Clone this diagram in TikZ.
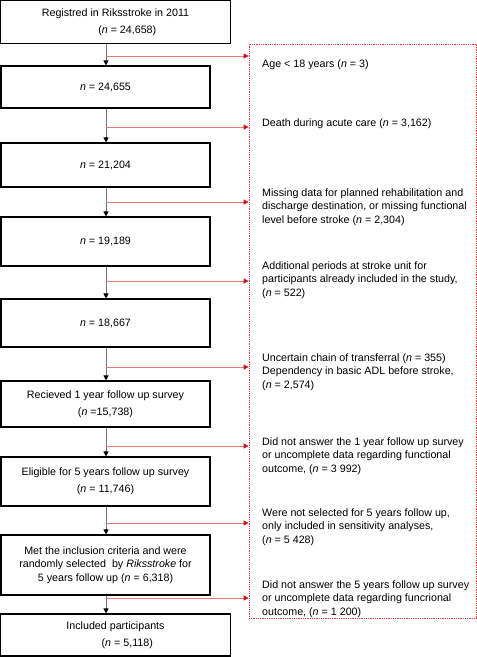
\documentclass[tikz,border=0pt]{standalone}
\usepackage{fontspec}
\setmainfont{Liberation Sans}
\usepackage{tikz}
\usetikzlibrary{positioning}
\usetikzlibrary{arrows.meta,shapes}
\usetikzlibrary{calc}
\definecolor{exclred}{RGB}{230,60,60}
\definecolor{tipred}{RGB}{200,20,20}
\tikzstyle{stepbox}=[rectangle,draw=black,line width=1.1pt,inner sep=0pt,align=center,font=\fontsize{10.7}{13.6}\selectfont]
\tikzstyle{exclbox}=[rectangle,draw=exclred,line width=0.8pt,densely dotted,inner sep=0pt]
\tikzstyle{excltext}=[anchor=west,inner sep=0pt,align=left,font=\fontsize{10.7}{13.6}\selectfont]
\tikzstyle{flowedge} = [draw,black!55,line width=0.8pt,-{Triangle[length=5pt,width=5pt,color=black]}]
\tikzstyle{excledge} = [draw,exclred!70,line width=0.8pt,-{Triangle[length=5pt,width=5pt,color=tipred]}]
\newcommand{\nn}{\textit{n}}

\begin{document}
\begin{tikzpicture}[x=1pt,y=-1pt]

  \useasboundingbox (0,0) rectangle (477,657);
  \def\lx{106};

  % flow boxes
  \foreach \x/\y/\w/\h/\name/\label in {
      115.5/22/230/43/s1/{Registred in Riksstroke in 2011\\[3pt]\hspace*{2.2em}(\nn{} = 24,658)},
      105.5/87/209/42/s2/{\nn{} = 24,655},
      105.5/165/209/44/s3/{\nn{} = 21,204},
      105.5/241.5/209/49/s4/{\nn{} = 19,189},
      105.5/323/209/48/s5/{\nn{} = 18,667},
      105.5/404/209/46/s6/{Recieved 1 year follow up survey\\[3pt](\nn{} =15,738)},
      105.5/481.5/209/49/s7/{Eligible for 5 years follow up survey\\[3pt](\nn{} = 11,746)},
      105.5/565/209/60/s8/{Met the inclusion criteria and were\\randomly selected \ by \textit{Riksstroke} for\\5 years follow up (\nn{} = 6,318)},
      115.5/635/230/42/s9/{Included participants\\[3pt]\hspace*{2.2em}(\nn{} = 5,118)}}
          \node[stepbox,minimum width=\w pt,minimum height=\h pt] (\name) at (\x,\y) {\label};

  % exclusion frame
  \node[exclbox,minimum width=227pt,minimum height=574pt] (excl) at (362.5,331) {};

  \coordinate (spine) at (\lx,0);
  \foreach \source/\dest in {s1/s2, s2/s3, s3/s4, s4/s5, s5/s6, s6/s7, s7/s8, s8/s9}
         \path[flowedge] (spine |- \source.south) -- (spine |- \dest.north);

  % exclusions
  \foreach \y/\name in {56/c1, 127/c2, 202/c3, 281/c4, 367/c5, 446/c6, 523/c7, 598/c8}
  {
         \coordinate (\name) at (\lx,\y);
         \path[excledge] (\name) -- (\name -| excl.west);
  }

  \node[excltext] (t1) at (262,65) {Age < 18 years (\nn{} = 3)};
  \node[excltext] (t2) at (262,124) {Death during acute care (\nn{} = 3,162)};
  \node[excltext] (t3) at (262,207) {Missing data for planned rehabilitation and\\discharge destination, or missing functional\\level before stroke (\nn{} = 2,304)};
  \node[excltext] (t4) at (262,280) {Additional periods at stroke unit for\\participants already included in the study,\\(\nn{} = 522)};
  \node[excltext] (t5) at (262,372) {Uncertain chain of transferral (\nn{} = 355)\\Dependency in basic ADL before stroke,\\(\nn{} = 2,574)};
  \node[excltext] (t6) at (262,456) {Did not answer the 1 year follow up survey\\or uncomplete data regarding functional\\outcome, (\nn{} = 3 992)};
  \node[excltext] (t7) at (262,527) {Were not selected for 5 years follow up,\\only included in sensitivity analyses,\\(\nn{} = 5 428)};
  \node[excltext] (t8) at (262,599) {Did not answer the 5 years follow up survey\\or uncomplete data regarding funcrional\\outcome, (\nn{} = 1 200)};

\end{tikzpicture}
\end{document}
